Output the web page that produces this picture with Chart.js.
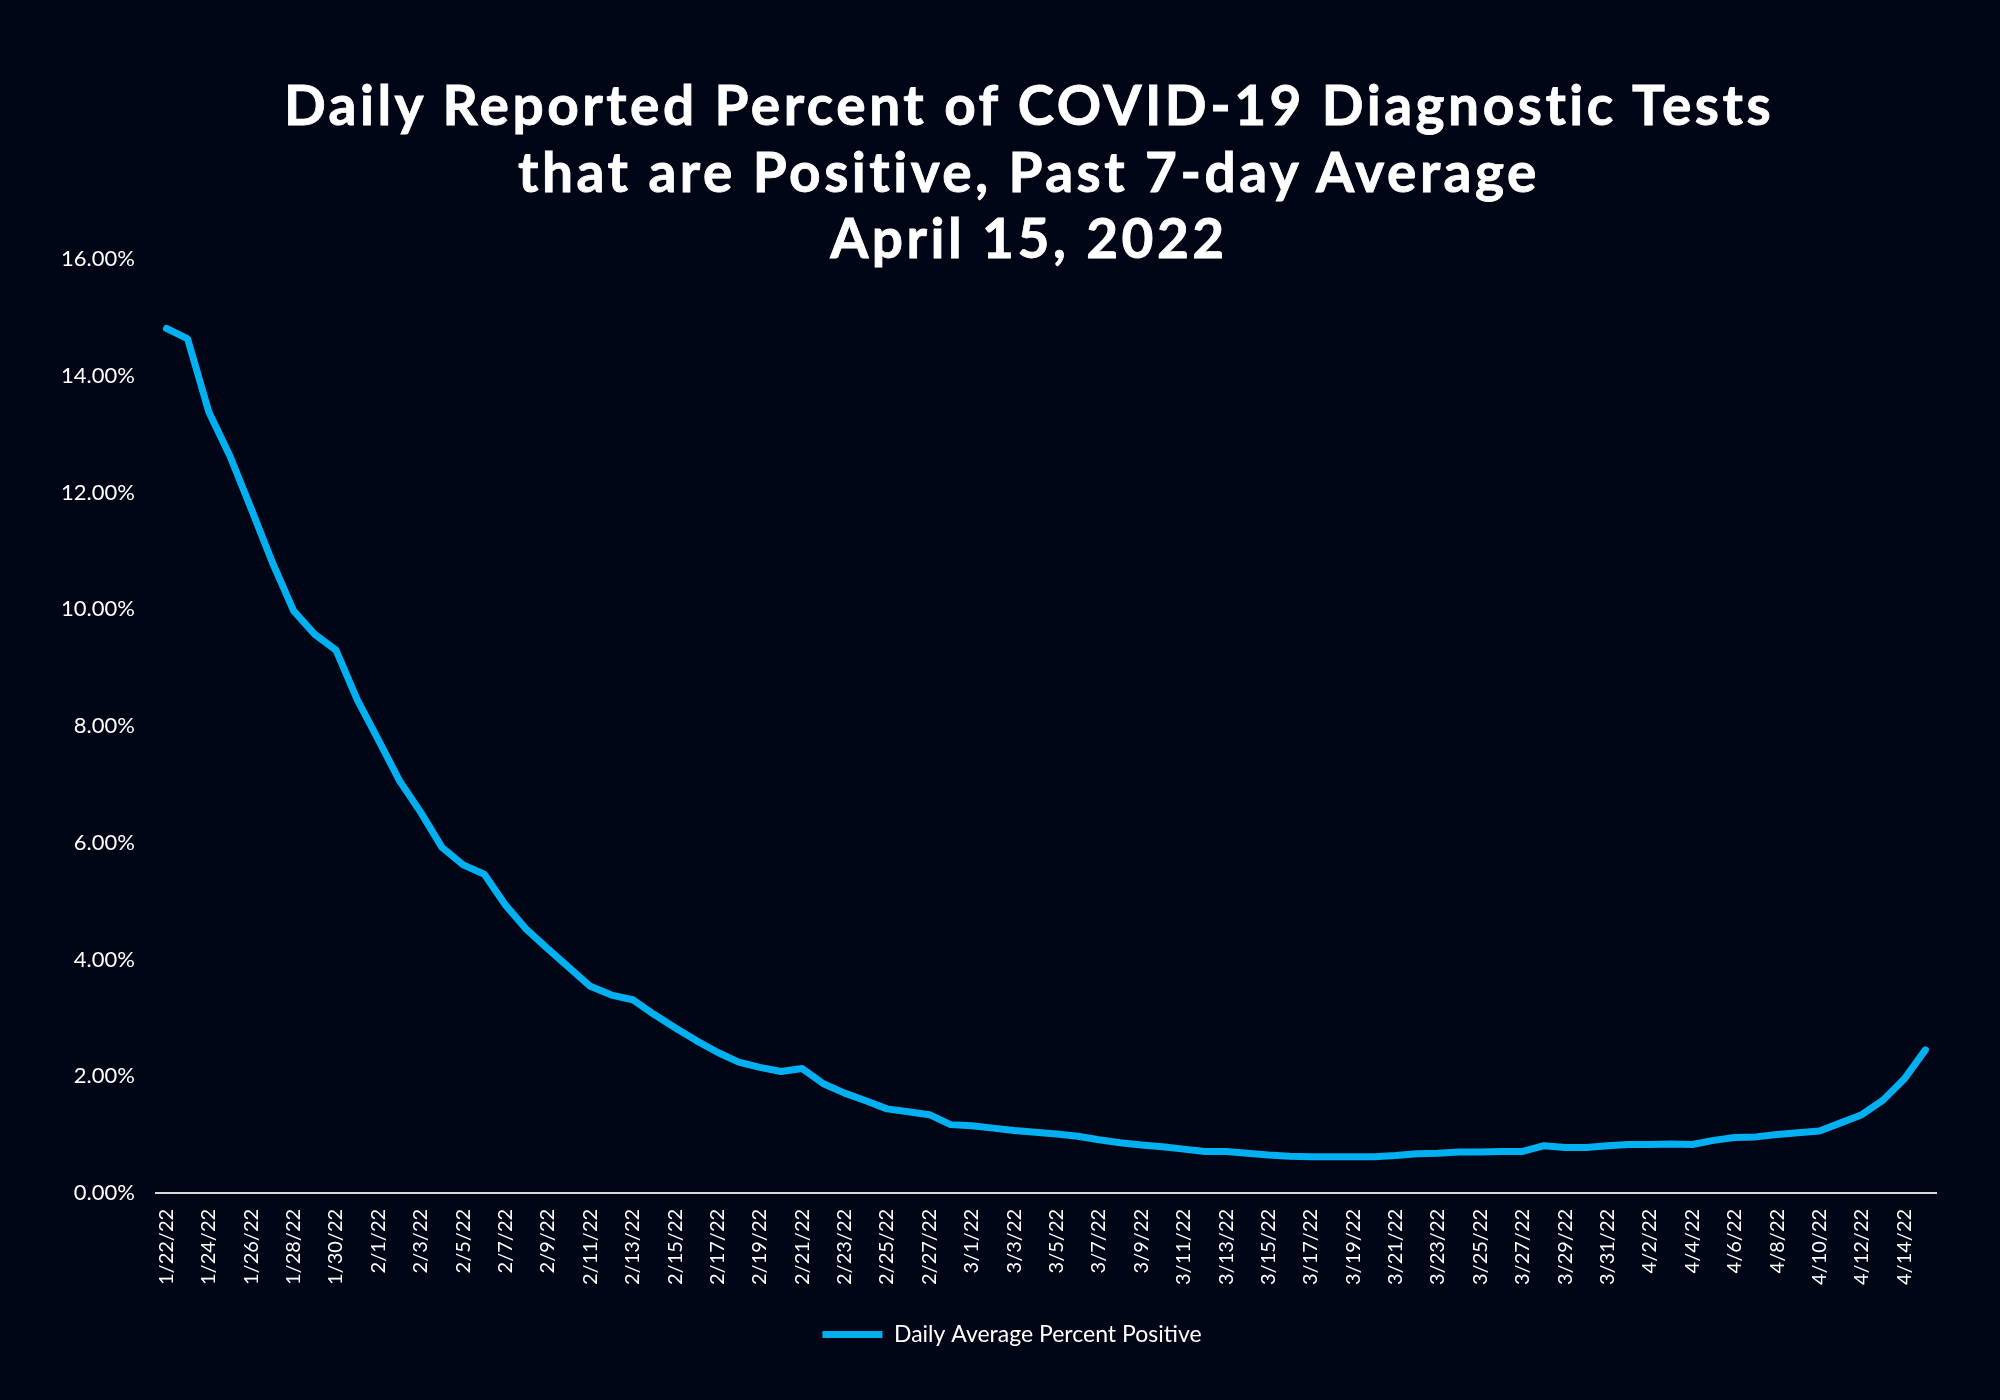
<!doctype html>
<html>
  <head>
    <script src="https://cdn.jsdelivr.net/npm/chart.js"></script>
    <meta name="viewport" content="width=device-width, initial-scale=1" />
    <style>
      html,
      body {
        margin: 0px;
        padding: 0px;
        background: #010616;
      }
      #wrap {
        position: relative;
        width: 2000px;
        height: 1400px;
      }
      #title {
        position: absolute;
        left: 0px;
        top: 71px;
        width: 2000px;
        padding-left: 58px;
        box-sizing: border-box;
        margin: 0px;
        color: #ffffff;
        font-family: Lato;
        font-weight: bold;
        font-size: 55px;
        line-height: 66.5px;
        letter-spacing: 3.5px;
        -webkit-text-stroke: 0.8px #ffffff;
        font-variant-ligatures: none;
        text-align: center;
      }
    </style>
  </head>
  <body>
    <div id="wrap">
      <canvas id="positivityChart"></canvas>
      <h1 id="title">
        Daily Reported Percent of COVID-19 Diagnostic Tests<br />
        that are Positive, Past 7-day Average<br />
        April 15, 2022
      </h1>
    </div>
    <script>
      // days shown on the x axis, 1/22/22 .. 4/15/22
      const dates = [
        "1/22/22", "1/23/22", "1/24/22", "1/25/22", "1/26/22", "1/27/22", "1/28/22",
        "1/29/22", "1/30/22", "1/31/22", "2/1/22", "2/2/22", "2/3/22", "2/4/22",
        "2/5/22", "2/6/22", "2/7/22", "2/8/22", "2/9/22", "2/10/22", "2/11/22",
        "2/12/22", "2/13/22", "2/14/22", "2/15/22", "2/16/22", "2/17/22", "2/18/22",
        "2/19/22", "2/20/22", "2/21/22", "2/22/22", "2/23/22", "2/24/22", "2/25/22",
        "2/26/22", "2/27/22", "2/28/22", "3/1/22", "3/2/22", "3/3/22", "3/4/22",
        "3/5/22", "3/6/22", "3/7/22", "3/8/22", "3/9/22", "3/10/22", "3/11/22",
        "3/12/22", "3/13/22", "3/14/22", "3/15/22", "3/16/22", "3/17/22", "3/18/22",
        "3/19/22", "3/20/22", "3/21/22", "3/22/22", "3/23/22", "3/24/22", "3/25/22",
        "3/26/22", "3/27/22", "3/28/22", "3/29/22", "3/30/22", "3/31/22", "4/1/22",
        "4/2/22", "4/3/22", "4/4/22", "4/5/22", "4/6/22", "4/7/22", "4/8/22",
        "4/9/22", "4/10/22", "4/11/22", "4/12/22", "4/13/22", "4/14/22", "4/15/22",
      ];

      // 7-day average percent positive
      const percentPositive = [
        14.81, 14.63, 13.38, 12.62, 11.72, 10.8, 9.97, 9.57, 9.3, 8.45,
        7.76, 7.06, 6.52, 5.92, 5.62, 5.46, 4.93, 4.51, 4.18, 3.86,
        3.54, 3.39, 3.31, 3.06, 2.83, 2.61, 2.41, 2.24, 2.15, 2.08,
        2.13, 1.87, 1.71, 1.58, 1.44, 1.39, 1.34, 1.17, 1.15, 1.11,
        1.07, 1.04, 1.01, 0.97, 0.91, 0.86, 0.82, 0.79, 0.75, 0.71,
        0.71, 0.68, 0.65, 0.63, 0.62, 0.62, 0.62, 0.62, 0.64, 0.67,
        0.68, 0.7, 0.7, 0.71, 0.71, 0.81, 0.78, 0.78, 0.81, 0.83,
        0.83, 0.84, 0.83, 0.9, 0.95, 0.96, 1.0, 1.03, 1.06, 1.2,
        1.34, 1.59, 1.95, 2.45,
      ];

      const yTicks = [0, 2, 4, 6, 8, 10, 12, 14, 16];

      // nudge the legend a little right of the canvas centre, as in the original
      const legendShift = {
        id: "legendShift",
        afterLayout: function (chart) {
          chart.legend.left += 20;
          chart.legend.right += 20;
        },
      };

      const ctx = document.getElementById("positivityChart").getContext("2d");
      const positivityChart = new Chart(ctx, {
        type: "line",
        data: {
          labels: dates,
          datasets: [
            {
              label: "Daily Average Percent Positive",
              data: percentPositive,
              borderColor: "#00b0f0",
              backgroundColor: "#00b0f0",
              borderWidth: 7,
              borderCapStyle: "round",
              borderJoinStyle: "round",
              pointRadius: 0,
              tension: 0,
            },
          ],
        },
        plugins: [legendShift],
        options: {
          responsive: true,
          maintainAspectRatio: false,
          animation: false,
          layout: {
            padding: { left: 48, right: 64, top: 259, bottom: 44 },
          },
          plugins: {
            title: { display: false },
            legend: {
              position: "bottom",
              labels: {
                color: "#ffffff",
                font: { family: "Lato", size: 23 },
                usePointStyle: true,
                pointStyle: "line",
                pointStyleWidth: 60,
                padding: 30,
              },
            },
            tooltip: { enabled: false },
          },
          scales: {
            x: {
              offset: true,
              grid: { display: false },
              border: { display: true, color: "#d9d9d9", width: 2 },
              ticks: {
                autoSkip: false,
                maxRotation: 90,
                minRotation: 90,
                padding: 8,
                color: "#ffffff",
                font: { family: "Lato", size: 20 },
                callback: function (val, i) {
                  return i % 2 === 0 ? dates[i] : "";
                },
              },
            },
            y: {
              min: 0,
              max: 16,
              afterBuildTicks: function (axis) {
                axis.ticks = yTicks.map((v) => ({ value: v }));
              },
              grid: { display: false },
              border: { display: false },
              ticks: {
                padding: 13,
                color: "#ffffff",
                font: { family: "Lato", size: 22 },
                callback: function (v) {
                  return v.toFixed(2) + "%";
                },
              },
            },
          },
        },
      });
    </script>
  </body>
</html>
